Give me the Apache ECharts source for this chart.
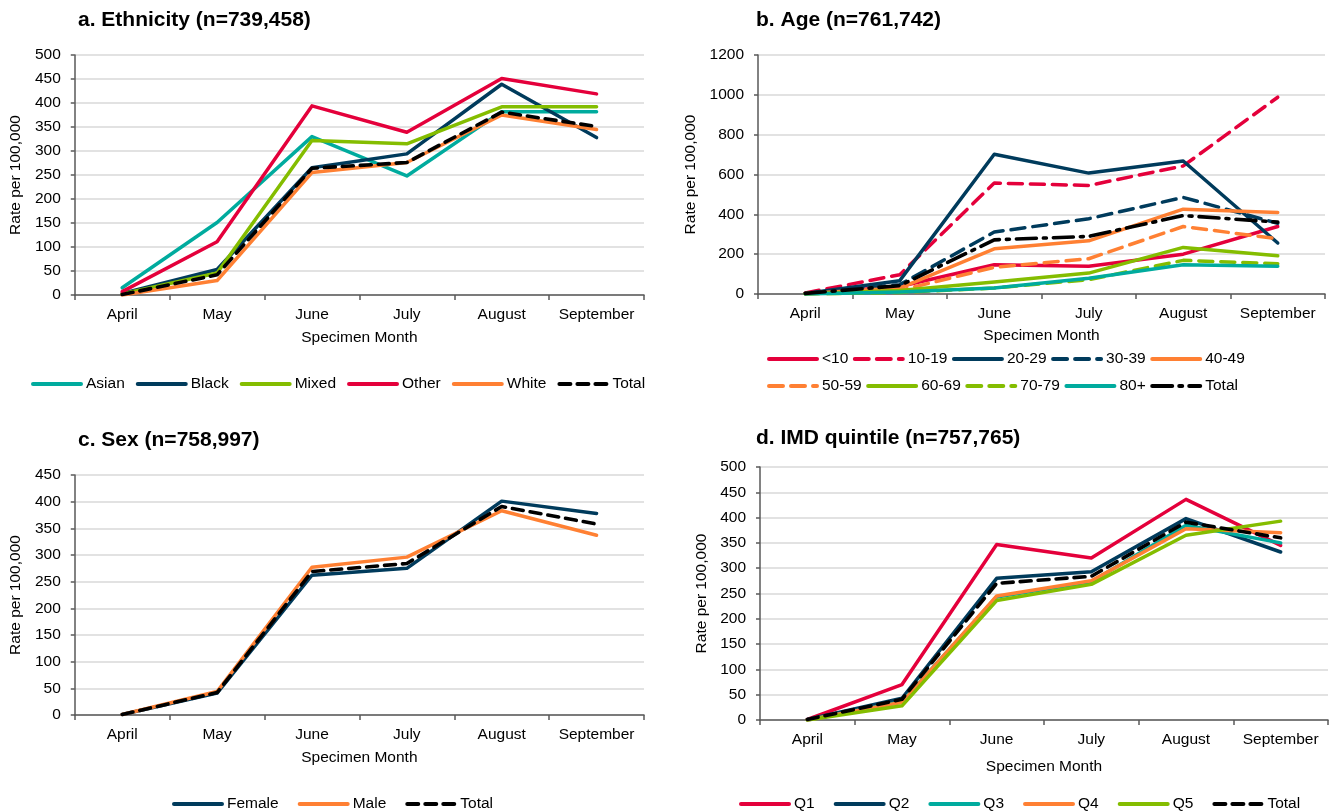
<!DOCTYPE html>
<html>
<head>
<meta charset="utf-8">
<script src="https://cdn.jsdelivr.net/npm/echarts@6/dist/echarts.min.js"></script>
<style>
  html, body { margin: 0; padding: 0; background: #fff; }
  #page { position: relative; width: 1329px; height: 812px; }
  .panel { position: absolute; }
</style>
</head>
<body>
<div id="page">
  <div id="pa" class="panel" style="left:0;top:0;width:664px;height:406px"></div>
  <div id="pb" class="panel" style="left:664px;top:0;width:665px;height:406px"></div>
  <div id="pc" class="panel" style="left:0;top:406px;width:664px;height:406px"></div>
  <div id="pd" class="panel" style="left:664px;top:406px;width:665px;height:406px"></div>
</div>
<script>
// Monthly rate per 100,000 by specimen month
const months = ['April', 'May', 'June', 'July', 'August', 'September'];

// a. Ethnicity
const ethAsian = [15, 151, 330, 248, 382, 382];
const ethBlack = [3, 53, 265, 294, 439, 328];
const ethMixed = [2, 46, 322, 315, 392, 392];
const ethOther = [7, 111, 394, 339, 451, 419];
const ethWhite = [0, 30, 255, 276, 375, 345];
const ethTotal = [1, 42, 264, 276, 381, 351];

// b. Age
const ageUnder10 = [2, 38, 147, 139, 200, 339];
const age10to19 = [5, 97, 557, 545, 643, 988];
const age20to29 = [3, 67, 702, 607, 668, 256];
const age30to39 = [2, 47, 311, 378, 485, 355];
const age40to49 = [2, 30, 227, 267, 426, 409];
const age50to59 = [1, 18, 134, 177, 339, 277];
const age60to69 = [1, 17, 60, 105, 234, 192];
const age70to79 = [0, 8, 30, 72, 169, 152];
const age80plus = [0, 10, 30, 79, 147, 139];
const ageTotal = [3, 42, 272, 289, 394, 361];

// c. Sex
const sexFemale = [1, 41, 262, 275, 401, 378];
const sexMale = [1, 44, 277, 296, 383, 337];
const sexTotal = [1, 42, 269, 284, 391, 358];

// d. IMD quintile
const imdQ1 = [1, 70, 347, 320, 436, 345];
const imdQ2 = [1, 43, 280, 293, 398, 332];
const imdQ3 = [0, 36, 243, 273, 385, 350];
const imdQ4 = [0, 35, 245, 275, 378, 370];
const imdQ5 = [0, 28, 236, 268, 365, 393];
const imdTotal = [1, 41, 270, 284, 391, 360];

const FONT = '"Liberation Sans", Arial, Helvetica, sans-serif';
const C = {
  pink: '#E4003B',
  navy: '#003B5C',
  teal: '#00AB9E',
  green: '#84BD00',
  orange: '#FF8033',
  black: '#000000'
};
const AXIS_COLOR = '#595959';
const TOTAL_DASH = [11, 7];
const AGE_DASH = [14, 8];
const AGE_TOTAL_DASH = [20, 7, 3, 7];

function line(name, data, color, dash, width) {
  return {
    type: 'line', name: name, data: data,
    symbol: 'none', smooth: false,
    lineStyle: { color: color, width: width || 3.5, type: dash || 'solid', cap: 'round', join: 'round' },
    itemStyle: { color: color },
    emphasis: { disabled: true },
    animation: false
  };
}

function legend(names, pos, gap, textWidth) {
  const ts = { fontFamily: FONT, fontSize: 15.5, color: '#000' };
  if (textWidth) ts.width = textWidth;
  return Object.assign({
    data: names,
    orient: 'horizontal',
    itemWidth: 48, itemHeight: 14, itemGap: gap,
    selectedMode: false,
    itemStyle: { opacity: 0, borderWidth: 0 },
    lineStyle: { width: 4, cap: 'round' },
    textStyle: ts
  }, pos);
}

function panel(el, p) {
  const chart = echarts.init(document.getElementById(el));
  chart.setOption({
    animation: false,
    textStyle: { fontFamily: FONT },
    title: {
      text: p.title, left: p.titleLeft, top: p.titleTop,
      textStyle: { fontFamily: FONT, fontSize: 21, fontWeight: 'bold', color: '#000' }
    },
    grid: p.grid,
    legend: p.legends,
    xAxis: {
      type: 'category', data: months, boundaryGap: true,
      axisLine: { lineStyle: { color: AXIS_COLOR, width: 1.5 } },
      axisTick: { show: true, length: 5, lineStyle: { color: AXIS_COLOR, width: 1.5 } },
      axisLabel: { interval: 0, color: '#000', fontSize: 15.5, fontFamily: FONT, margin: 12 },
      name: 'Specimen Month', nameLocation: 'middle', nameGap: p.xNameGap,
      nameTextStyle: { color: '#000', fontSize: 15.5, fontFamily: FONT }
    },
    yAxis: {
      type: 'value', min: 0, max: p.yMax, interval: p.yStep,
      axisLine: { show: true, lineStyle: { color: AXIS_COLOR, width: 1.5 } },
      axisTick: { show: true, length: 4, lineStyle: { color: AXIS_COLOR, width: 1.5 } },
      axisLabel: {
        color: '#000', fontSize: 15.5, fontFamily: FONT, margin: 14,
        formatter: function (v) { return String(v); }
      },
      splitLine: { show: true, lineStyle: { color: '#D9D9D9', width: 1.5 } },
      name: 'Rate per 100,000', nameLocation: 'middle', nameGap: p.yNameGap, nameRotate: 90,
      nameTextStyle: { color: '#000', fontSize: 15.5, fontFamily: FONT }
    },
    series: p.series
  });
}

// a. Ethnicity
panel('pa', {
  title: 'a. Ethnicity (n=739,458)', titleLeft: 73, titleTop: 5,
  grid: { left: 72, top: 55, width: 572, height: 240 },
  yMax: 500, yStep: 50, xNameGap: 35, yNameGap: 44,
  legends: [legend(['Asian', 'Black', 'Mixed', 'Other', 'White', 'Total'], { left: 26, top: 371 }, 11)],
  series: [
    line('Asian', ethAsian, C.teal),
    line('Black', ethBlack, C.navy),
    line('Mixed', ethMixed, C.green),
    line('Other', ethOther, C.pink),
    line('White', ethWhite, C.orange),
    line('Total', ethTotal, C.black, TOTAL_DASH, 3.6)
  ]
});

// b. Age
panel('pb', {
  title: 'b. Age (n=761,742)', titleLeft: 87, titleTop: 5,
  grid: { left: 94, top: 55, width: 567, height: 239 },
  yMax: 1200, yStep: 200, xNameGap: 34, yNameGap: 49,
  legends: [
    legend(['<10', '10-19', '20-29', '30-39', '40-49'], { left: 98, top: 346 }, 4.5, 40),
    legend(['50-59', '60-69', '70-79', '80+', 'Total'], { left: 98, top: 373 }, 4.5, 40)
  ],
  series: [
    line('<10', ageUnder10, C.pink),
    line('10-19', age10to19, C.pink, AGE_DASH),
    line('20-29', age20to29, C.navy),
    line('30-39', age30to39, C.navy, AGE_DASH),
    line('40-49', age40to49, C.orange),
    line('50-59', age50to59, C.orange, AGE_DASH),
    line('60-69', age60to69, C.green),
    line('70-79', age70to79, C.green, AGE_DASH),
    line('80+', age80plus, C.teal),
    line('Total', ageTotal, C.black, AGE_TOTAL_DASH, 3.6)
  ]
});

// c. Sex
panel('pc', {
  title: 'c. Sex (n=758,997)', titleLeft: 73, titleTop: 19,
  grid: { left: 72, top: 69, width: 572, height: 240 },
  yMax: 450, yStep: 50, xNameGap: 35, yNameGap: 44,
  legends: [legend(['Female', 'Male', 'Total'], { left: 167, top: 385 }, 19)],
  series: [
    line('Female', sexFemale, C.navy),
    line('Male', sexMale, C.orange),
    line('Total', sexTotal, C.black, TOTAL_DASH, 3.6)
  ]
});

// d. IMD quintile
panel('pd', {
  title: 'd. IMD quintile (n=757,765)', titleLeft: 87, titleTop: 17,
  grid: { left: 96, top: 61, width: 568, height: 253 },
  yMax: 500, yStep: 50, xNameGap: 39, yNameGap: 40,
  legends: [legend(['Q1', 'Q2', 'Q3', 'Q4', 'Q5', 'Total'], { left: 70, top: 385 }, 19)],
  series: [
    line('Q1', imdQ1, C.pink),
    line('Q2', imdQ2, C.navy),
    line('Q3', imdQ3, C.teal),
    line('Q4', imdQ4, C.orange),
    line('Q5', imdQ5, C.green),
    line('Total', imdTotal, C.black, TOTAL_DASH, 3.6)
  ]
});
</script>
</body>
</html>
